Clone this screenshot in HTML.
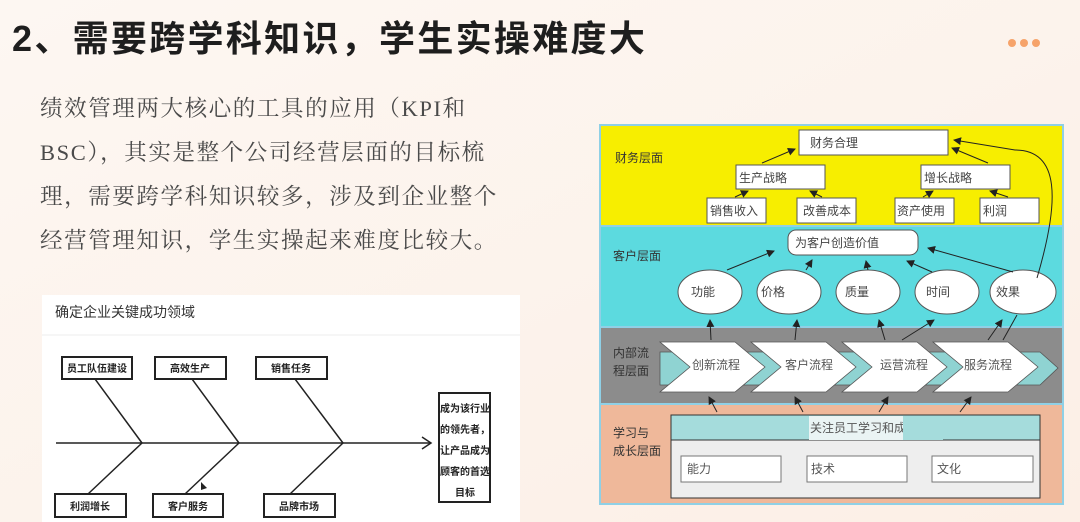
<!DOCTYPE html>
<html><head><meta charset="utf-8"><style>
body{margin:0;width:1080px;height:522px;overflow:hidden;background:#fdf5f0;}
svg{display:block}
</style></head><body>
<svg width="1080" height="522" viewBox="0 0 1080 522" xmlns="http://www.w3.org/2000/svg" font-family="'Liberation Sans','Noto Sans CJK SC',sans-serif">
<defs>
<linearGradient id="bg" x1="0" y1="0" x2="1" y2="1"><stop offset="0" stop-color="#fdf7f2"/><stop offset="1" stop-color="#fcefe6"/></linearGradient>
<marker id="ar" markerWidth="8" markerHeight="8" refX="7" refY="4" orient="auto" markerUnits="userSpaceOnUse"><path d="M0,0 L8,4 L0,8 z" fill="#222"/></marker>
</defs>
<rect width="1080" height="522" fill="url(#bg)"/>
<circle cx="1012" cy="43" r="4" fill="#f6a36a"/><circle cx="1024" cy="43" r="4" fill="#f6a36a"/><circle cx="1036" cy="43" r="4" fill="#f6a36a"/>
<text x="12" y="51" font-size="36" font-weight="bold" fill="#1e1e1e" letter-spacing="2.3">2、需要跨学科知识，学生实操难度大</text>
<g font-size="22.5" fill="#4a4a4a" font-family="'Liberation Serif','Noto Serif CJK SC',serif" letter-spacing="1.6">
<text x="40" y="116">绩效管理两大核心的工具的应用（KPI和</text>
<text x="40" y="160">BSC），其实是整个公司经营层面的目标梳</text>
<text x="40" y="204">理，需要跨学科知识较多，涉及到企业整个</text>
<text x="40" y="248">经营管理知识，学生实操起来难度比较大。</text>
</g>
<!-- fishbone panel -->
<rect x="42" y="295" width="478" height="227" fill="#fff"/>
<text x="55" y="317" font-size="14" fill="#333">确定企业关键成功领域</text>
<line x1="42" y1="335" x2="520" y2="335" stroke="#eee"/>
<g stroke="#222" stroke-width="1.5" fill="none">
<line x1="56" y1="443" x2="430" y2="443"/>
<path d="M422,437 L431,443 L422,449"/>
<line x1="95" y1="379" x2="142" y2="443"/><line x1="192" y1="379" x2="239" y2="443"/><line x1="295" y1="379" x2="343" y2="443"/>
<line x1="142" y1="443" x2="88" y2="494"/><line x1="239" y1="443" x2="185" y2="494"/><line x1="343" y1="443" x2="290" y2="494"/>
<rect x="62" y="357" width="70" height="22" stroke-width="2"/><rect x="155" y="357" width="71" height="22" stroke-width="2"/><rect x="256" y="357" width="71" height="22" stroke-width="2"/>
<rect x="55" y="494" width="71" height="23" stroke-width="2"/><rect x="153" y="494" width="70" height="23" stroke-width="2"/><rect x="264" y="494" width="71" height="23" stroke-width="2"/>
<rect x="439" y="393" width="51" height="109" stroke-width="2"/>
</g>
<g font-size="10" font-weight="bold" fill="#222" text-anchor="middle">
<text x="97" y="372">员工队伍建设</text><text x="190" y="372">高效生产</text><text x="291" y="372">销售任务</text>
<text x="90" y="510">利润增长</text><text x="188" y="510">客户服务</text><text x="299" y="510">品牌市场</text>
<text x="465" y="412">成为该行业</text><text x="465" y="433">的领先者，</text><text x="465" y="454">让产品成为</text><text x="465" y="475">顾客的首选</text><text x="465" y="496">目标</text>
</g>
<path d="M201,482 L207,488 L201,490 z" fill="#222"/>
<!-- BSC -->
<rect x="600" y="125" width="463" height="101" fill="#f7ee00"/>
<rect x="600" y="226" width="463" height="101" fill="#5cdadf"/>
<rect x="600" y="327" width="463" height="77" fill="#8c8c8c"/>
<rect x="600" y="404" width="463" height="100" fill="#efb89a"/>
<g stroke="#8fd0e6" stroke-width="2" fill="none"><rect x="600" y="125" width="463" height="379"/><line x1="600" y1="226" x2="1063" y2="226"/><line x1="600" y1="327" x2="1063" y2="327"/><line x1="600" y1="404" x2="1063" y2="404"/></g>
<g font-size="12" fill="#333">
<text x="615" y="162">财务层面</text><text x="613" y="260">客户层面</text>
<text x="613" y="357">内部流</text><text x="613" y="375">程层面</text>
<text x="613" y="437">学习与</text><text x="613" y="455">成长层面</text>
</g>
<g fill="#fff" stroke="#555" stroke-width="1">
<rect x="799" y="130" width="149" height="25"/>
<rect x="736" y="165" width="89" height="24"/><rect x="921" y="165" width="89" height="24"/>
<rect x="707" y="198" width="59" height="25"/><rect x="797" y="198" width="59" height="25"/><rect x="895" y="198" width="59" height="25"/><rect x="980" y="198" width="59" height="25"/>
<rect x="788" y="230" width="130" height="25" rx="8"/>
<ellipse cx="710" cy="292" rx="32" ry="22"/><ellipse cx="789" cy="292" rx="32" ry="22"/><ellipse cx="868" cy="292" rx="32" ry="22"/><ellipse cx="947" cy="292" rx="32" ry="22"/><ellipse cx="1023" cy="292" rx="33" ry="22"/>
</g>
<g font-size="12" fill="#444">
<text x="810" y="147">财务合理</text><text x="739" y="182">生产战略</text><text x="924" y="182">增长战略</text>
<text x="710" y="215">销售收入</text><text x="803" y="215">改善成本</text><text x="897" y="215">资产使用</text><text x="983" y="215">利润</text>
<text x="795" y="247">为客户创造价值</text>
<text x="691" y="296">功能</text><text x="761" y="296">价格</text><text x="845" y="296">质量</text><text x="926" y="296">时间</text><text x="996" y="296">效果</text>
</g>
<g stroke="#222" stroke-width="1" fill="none" marker-end="url(#ar)">
<line x1="762" y1="163" x2="795" y2="149"/><line x1="988" y1="163" x2="952" y2="148"/>
<line x1="735" y1="197" x2="748" y2="191"/><line x1="822" y1="197" x2="810" y2="191"/><line x1="923" y1="197" x2="933" y2="191"/><line x1="1008" y1="197" x2="990" y2="191"/>
<line x1="727" y1="270" x2="774" y2="251"/><line x1="806" y1="270" x2="812" y2="260"/><line x1="868" y1="270" x2="866" y2="261"/><line x1="932" y1="272" x2="907" y2="261"/><line x1="1013" y1="272" x2="928" y2="248"/>
<path d="M1037,278 C1060,200 1060,150 1015,150 L954,140"/>
<line x1="711" y1="340" x2="710" y2="320"/><line x1="795" y1="340" x2="797" y2="320"/><line x1="885" y1="340" x2="879" y2="320"/><line x1="902" y1="340" x2="934" y2="320"/><line x1="988" y1="340" x2="1002" y2="320"/>
<line x1="717" y1="412" x2="709" y2="397"/><line x1="803" y1="412" x2="795" y2="397"/><line x1="879" y1="412" x2="888" y2="397"/><line x1="960" y1="412" x2="971" y2="397"/>
</g>
<line x1="1003" y1="340" x2="1017" y2="315" stroke="#222"/>
<!-- chevrons -->
<path d="M660,352 L1040,352 L1058,368 L1040,385 L660,385 z" fill="#8fd3d2" stroke="#555" stroke-width="0.8"/>
<g fill="#fff" stroke="#555" stroke-width="0.8">
<path d="M660,342 L735,342 L765,367 L735,392 L660,392 L690,367 z"/>
<path d="M751,342 L826,342 L856,367 L826,392 L751,392 L781,367 z"/>
<path d="M842,342 L917,342 L947,367 L917,392 L842,392 L872,367 z"/>
<path d="M933,342 L1008,342 L1038,367 L1008,392 L933,392 L963,367 z"/>
</g>
<g font-size="12" fill="#555"><text x="692" y="369">创新流程</text><text x="785" y="369">客户流程</text><text x="880" y="369">运营流程</text><text x="964" y="369">服务流程</text></g>
<rect x="671" y="415" width="369" height="83" fill="#eeeeee" stroke="#333"/>
<rect x="671" y="415" width="369" height="25" fill="#a5dcdc" stroke="#333"/>
<rect x="809" y="416" width="94" height="24" fill="#eaf4f4"/>
<text x="810" y="432" font-size="12" fill="#555">关注员工学习和成</text>
<rect x="903" y="416" width="40" height="24" fill="#a5dcdc"/>
<g fill="#fff" stroke="#777"><rect x="681" y="456" width="100" height="26"/><rect x="807" y="456" width="100" height="26"/><rect x="932" y="456" width="101" height="26"/></g>
<g font-size="12" fill="#555"><text x="687" y="473">能力</text><text x="811" y="473">技术</text><text x="937" y="473">文化</text></g>
</svg>
</body></html>
